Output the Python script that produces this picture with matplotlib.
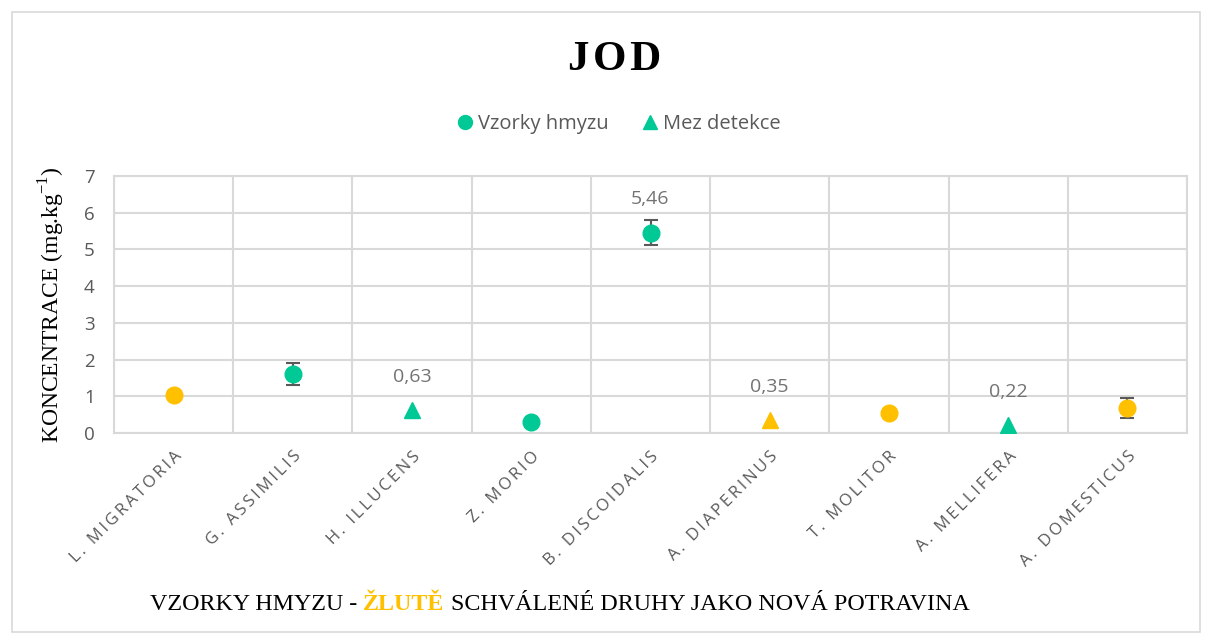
import matplotlib
matplotlib.use("Agg")
import matplotlib.pyplot as plt
import matplotlib.transforms as mtransforms
import numpy as np
from matplotlib.patches import Rectangle
from matplotlib.lines import Line2D

# data
species = ["L. MIGRATORIA", "G. ASSIMILIS", "H. ILLUCENS", "Z. MORIO", "B. DISCOIDALIS",
           "A. DIAPERINUS", "T. MOLITOR", "A. MELLIFERA", "A. DOMESTICUS"]
values = [1.04, 1.61, 0.63, 0.30, 5.46, 0.35, 0.55, 0.22, 0.68]
errors = [0.10, 0.30, 0.0, 0.06, 0.35, 0.0, 0.09, 0.0, 0.27]
is_limit = [False, False, True, False, False, True, False, True, False]   # Mez detekce
approved = [True, False, False, False, False, True, True, False, True]    # yellow
labelled = [False, False, True, False, True, True, False, True, False]

GREEN = "#00C996"
YELLOW = "#FFC000"
GRID = "#D9D9D9"
TXT = "#595959"
SANS = ["Open Sans", "DejaVu Sans"]

fig = plt.figure(figsize=(12.09, 6.36), dpi=100)
ax = fig.add_axes([114 / 1209, 1 - 433 / 636, (1187 - 114) / 1209, (433 - 176) / 636])

x = np.arange(len(species))
for i in x:
    col = YELLOW if approved[i] else GREEN
    if is_limit[i]:
        ax.plot(i, values[i], marker="^", ms=12, color=col, ls="none", zorder=4)
    else:
        if errors[i] > 0:
            ax.errorbar(i, values[i], yerr=errors[i], fmt="none", ecolor=TXT,
                        elinewidth=1.5, capsize=5, capthick=1.5, zorder=3)
        ax.plot(i, values[i], marker="o", ms=12, color=col, ls="none", zorder=4)
    if labelled[i]:
        ax.annotate(f"{values[i]:.2f}".replace(".", ","), (i, values[i]),
                    xytext=(0, 24), textcoords="offset points", ha="center", va="center",
                    fontsize=14, color="#737373", family=SANS)

ax.set_xlim(-0.5, len(species) - 0.5)
ax.set_ylim(0, 7)
ax.set_yticks(range(0, 8))
ax.set_xticks(x)
# excel draws these letter-spaced
spaced = ["\u2009".join(s) for s in species]
ax.set_xticklabels(spaced, rotation=45, ha="right", rotation_mode="anchor",
                   fontsize=12, color=TXT, family=SANS)
shift = mtransforms.ScaledTranslation(-7 / 100, -4 / 100, fig.dpi_scale_trans)
for lab in ax.get_xticklabels():
    lab.set_transform(lab.get_transform() + shift)
ax.set_xticks(np.arange(-0.5, len(species), 1), minor=True)
ax.tick_params(axis="x", which="both", length=0, pad=11)
ax.tick_params(axis="y", length=0, pad=14, labelsize=13.5, labelcolor=TXT)
for lab in ax.get_yticklabels():
    lab.set_family(SANS)
ax.grid(True, which="minor", axis="x", color=GRID, lw=1.5)
ax.grid(True, which="major", axis="y", color=GRID, lw=1.5)
for s in ax.spines.values():
    s.set_color(GRID)
    s.set_linewidth(1.5)

ax.set_ylabel("KONCENTRACE (mg.kg$^{\\mathregular{-1}}$)", family="Liberation Serif",
              fontsize=17, color="black", labelpad=12)

fig.text(0.508, 0.905, "J\u200aO\u200aD", ha="center", va="center",
         family=["Liberation Serif", "DejaVu Serif"], fontsize=31, fontweight="bold")

handles = [Line2D([], [], marker="o", color=GREEN, ls="none", ms=10),
           Line2D([], [], marker="^", color=GREEN, ls="none", ms=10)]
leg = fig.legend(handles, ["Vzorky hmyzu", "Mez detekce"], loc="center",
                 bbox_to_anchor=(0.511, 0.805), ncol=2, frameon=False,
                 handletextpad=0.1, columnspacing=1.6, handlelength=1.0,
                 prop={"family": SANS, "size": 14.5})
for t in leg.get_texts():
    t.set_color(TXT)

# caption with the yellow bold word
fig.canvas.draw()
r = fig.canvas.get_renderer()
parts = [("VZORKY HMYZU - ", "black", "normal"), ("ŽLUTĚ", YELLOW, "bold"),
         (" SCHVÁLENÉ DRUHY JAKO NOVÁ POTRAVINA", "black", "normal")]
xpos = 150 / 1209
for s, c, w in parts:
    t = fig.text(xpos, 1 - 604 / 636, s, color=c, fontweight=w, fontsize=17.3,
                 family="Liberation Serif", ha="left", va="center")
    bb = t.get_window_extent(renderer=r)
    xpos += bb.width / fig.bbox.width

fig.patches.append(Rectangle((12 / 1209, 4 / 636), 1188 / 1209, 620 / 636,
                             transform=fig.transFigure, fill=False, ec=GRID, lw=1.2))

fig.savefig("out.png", dpi=100)
